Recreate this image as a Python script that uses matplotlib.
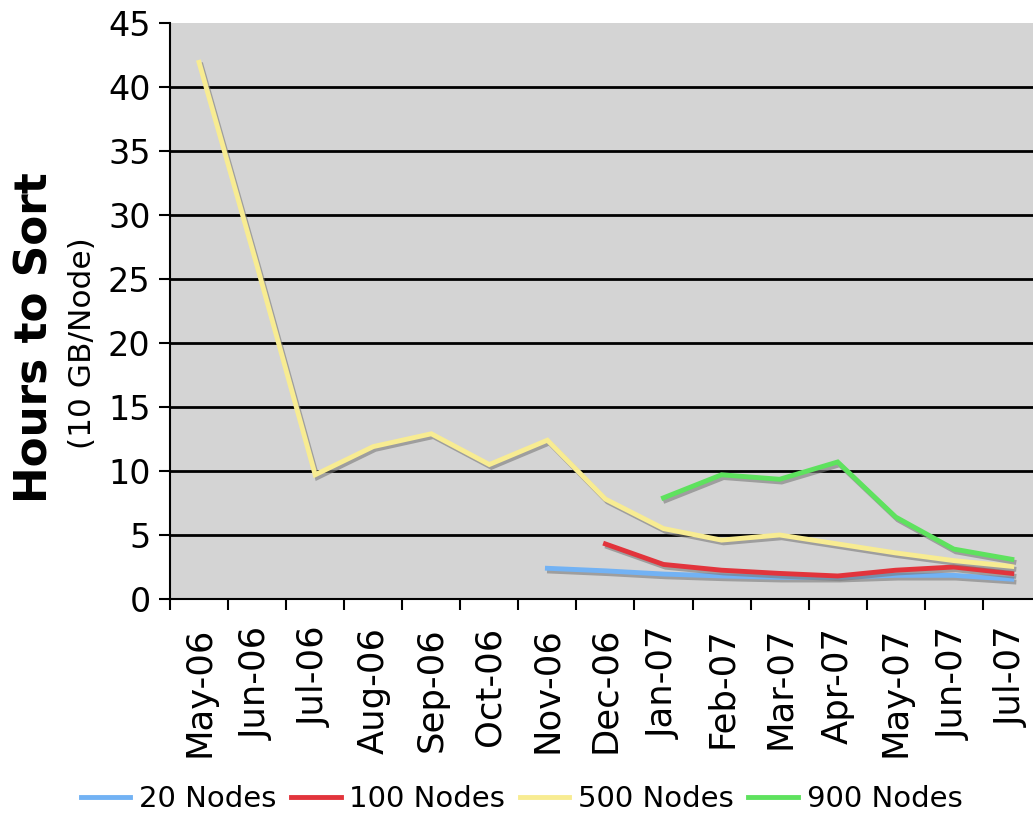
import numpy as np
import matplotlib
matplotlib.use("Agg")
import matplotlib.pyplot as plt
import matplotlib.patheffects as pe
from matplotlib.ticker import FixedLocator

months = ["May-06", "Jun-06", "Jul-06", "Aug-06", "Sep-06", "Oct-06", "Nov-06",
          "Dec-06", "Jan-07", "Feb-07", "Mar-07", "Apr-07", "May-07", "Jun-07", "Jul-07"]

nan = np.nan
nodes_20 = [nan, nan, nan, nan, nan, nan, 2.4, 2.2, 1.95, 1.8, 1.7, 1.7, 1.85, 1.85, 1.55]
nodes_100 = [nan, nan, nan, nan, nan, nan, nan, 4.3, 2.7, 2.25, 2.0, 1.8, 2.25, 2.5, 2.0]
nodes_500 = [41.9, 26.0, 9.7, 11.9, 12.9, 10.5, 12.4, 7.8, 5.5, 4.6, 5.0, 4.3, 3.6, 3.0, 2.55]
nodes_900 = [nan, nan, nan, nan, nan, nan, nan, nan, 7.9, 9.7, 9.35, 10.7, 6.4, 3.9, 3.1]

series = [
    ("20 Nodes", nodes_20, "#72b2f4"),
    ("100 Nodes", nodes_100, "#e2343c"),
    ("500 Nodes", nodes_500, "#f8ec92"),
    ("900 Nodes", nodes_900, "#5ee25e"),
]

yticks = [0, 5, 10, 15, 20, 25, 30, 35, 40, 45]

fig = plt.figure(figsize=(10.33, 8.17), dpi=100)
ax = fig.add_axes([0.1646, 0.2668, 0.843, 0.7055])
ax.set_facecolor("#d4d4d4")

x = np.arange(len(months))

# horizontal rules inside the plot area (none along the top edge)
for y in yticks[1:-1]:
    ax.axhline(y, color="black", lw=2.0, zorder=1)

shadow = [pe.SimpleLineShadow(offset=(1.5, -2), shadow_color="#7a7a7a", alpha=0.6),
          pe.Normal()]
for name, vals, col in series:
    ax.plot(x, vals, color=col, lw=3.5, label=name, zorder=3,
            solid_joinstyle="miter", path_effects=shadow)

ax.set_xlim(-0.5, len(months) - 0.5)
ax.set_ylim(0, 45)
ax.set_yticks(yticks)
ax.set_yticklabels([str(t) for t in yticks], fontsize=24)

ax.set_xticks(x)
ax.set_xticklabels(months, rotation=90, fontsize=25.5)
ax.xaxis.set_minor_locator(FixedLocator(np.arange(-0.5, len(months), 1.0)))
ax.tick_params(axis="x", which="major", length=0, pad=20)
ax.tick_params(axis="x", which="minor", length=8, width=1.5, direction="out")
ax.tick_params(axis="y", length=8, width=1.5, direction="out", pad=6)

for s in ["top", "right"]:
    ax.spines[s].set_visible(False)
for s in ["left", "bottom"]:
    ax.spines[s].set_linewidth(1.5)

fig.text(0.0335, 1 - 338 / 817, "Hours to Sort", rotation=90, fontsize=31.5,
         fontweight="bold", ha="center", va="center")
fig.text(0.0795, 1 - 343 / 817, "(10 GB/Node)", rotation=90, fontsize=22.5,
         ha="center", va="center")

leg = fig.legend(loc="center", bbox_to_anchor=(0.505, 0.022), ncol=4,
                 frameon=False, handlelength=1.7, handletextpad=0.3,
                 columnspacing=0.5, borderpad=0.2, fontsize=21)
for h in leg.get_lines():
    h.set_linewidth(3.5)
    h.set_path_effects([])

fig.savefig("out.png", dpi=100)
